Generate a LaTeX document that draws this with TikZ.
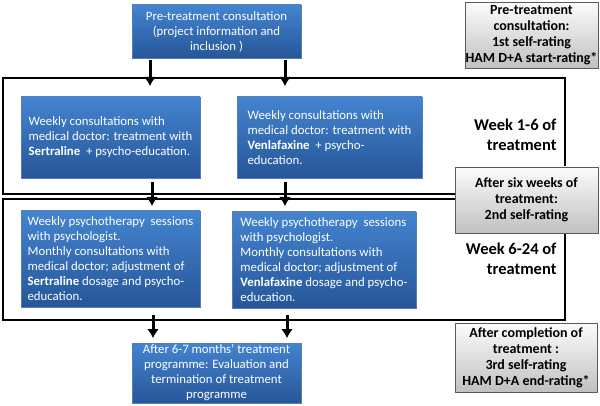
\documentclass[tikz,border=0pt]{standalone}
\usepackage{fontspec}
\setmainfont{Carlito}
\usepackage{tikz}
\usetikzlibrary{ arrows.meta, % For the thick arrow tips
               }

\definecolor{bluetop}{RGB}{68,132,208}
\definecolor{bluebot}{RGB}{38,86,152}
\definecolor{blueline}{RGB}{85,125,185}
\definecolor{graytop}{RGB}{252,252,252}
\definecolor{graybot}{RGB}{192,192,192}
\definecolor{grayline}{RGB}{90,90,90}

\tikzset{
  bluebox/.style={draw=blueline, top color=bluetop, bottom color=bluebot,
                  text=white, font=\fontsize{12.8}{15}\selectfont, inner sep=0pt},
  ratingbox/.style={draw=grayline, top color=graytop, bottom color=graybot,
                    font=\bfseries\fontsize{14}{16}\selectfont, align=center, inner sep=0pt},
  weektext/.style={font=\bfseries\fontsize{16.5}{20}\selectfont, align=right, anchor=east},
  downarrow/.style={-{Latex[length=9pt,width=12pt]}, line width=3pt},
  phasebox/.style={draw, line width=1.3pt},
}

\begin{document}
\begin{tikzpicture}[x=1pt,y=-1pt]
    \useasboundingbox (0,0) rectangle (600,406);
    % the two treatment phases
    \draw[phasebox] (3,78) rectangle (565,194);
    \draw[phasebox] (3,199) rectangle (565,320);

    \node[bluebox, minimum width=169pt, minimum height=53pt, align=center] (pre) at (216.5,31.5)
      {Pre-treatment consultation\\(project information and\\inclusion )};
    \node[bluebox, minimum width=179pt, minimum height=81pt, align=left] (sert1) at (110.5,137.5)
      {Weekly consultations with\\medical doctor: treatment with\\\textbf{Sertraline}~ + psycho-education.};
    \node[bluebox, minimum width=185pt, minimum height=81pt, align=left] (venl1) at (329.5,137.5)
      {Weekly consultations with\\medical doctor: treatment with\\\textbf{Venlafaxine}~ + psycho-\\education.};
    \node[bluebox, minimum width=179pt, minimum height=96pt, align=left] (sert2) at (110.5,259)
      {Weekly psychotherapy~ sessions\\with psychologist.\\Monthly consultations with\\medical doctor; adjustment of\\\textbf{Sertraline} dosage and psycho-\\education.};
    \node[bluebox, minimum width=184pt, minimum height=96pt, align=left] (venl2) at (324,260)
      {Weekly psychotherapy~ sessions\\with psychologist.\\Monthly consultations with\\medical doctor; adjustment of\\\textbf{Venlafaxine} dosage and psycho-\\education.};
    \node[bluebox, minimum width=169pt, minimum height=60pt, align=center] (post) at (216.5,373)
      {After 6-7 months’ treatment\\programme: Evaluation and\\termination of treatment\\programme};

    \node[weektext] (week1) at (560,135) {Week 1-6 of\\treatment};
    \node[weektext] (week2) at (560,259) {Week 6-24 of\\treatment};

    \node[ratingbox, minimum width=133pt, minimum height=66pt] (rate1) at (531.5,35)
      {Pre-treatment\\consultation:\\1st self-rating\\HAM D+A start-rating*};
    \node[ratingbox, minimum width=143pt, minimum height=66pt] (rate2) at (526.5,200)
      {After six weeks of\\treatment:\\2nd self-rating};
    \node[ratingbox, minimum width=142pt, minimum height=69pt] (rate3) at (526,357.5)
      {After completion of\\treatment :\\3rd self-rating\\HAM D+A end-rating*};

    \coordinate (a1) at (150,86);
    \coordinate (a2) at (285,86);
    \coordinate (b1) at (152,206);
    \coordinate (b2) at (285,206);
    \coordinate (c1) at (153,338);
    \coordinate (c2) at (287,338);
    \draw[downarrow, shorten <=2pt] (pre.south -| a1) -- (a1);
    \draw[downarrow, shorten <=2pt] (pre.south -| a2) -- (a2);
    \draw[downarrow, shorten <=4pt] (sert1.south -| b1) -- (b1);
    \draw[downarrow, shorten <=4pt] (venl1.south -| b2) -- (b2);
    \draw[downarrow, shorten <=8pt] (sert2.south -| c1) -- (c1);
    \draw[downarrow, shorten <=7pt] (venl2.south -| c2) -- (c2);
\end{tikzpicture}
\end{document}
